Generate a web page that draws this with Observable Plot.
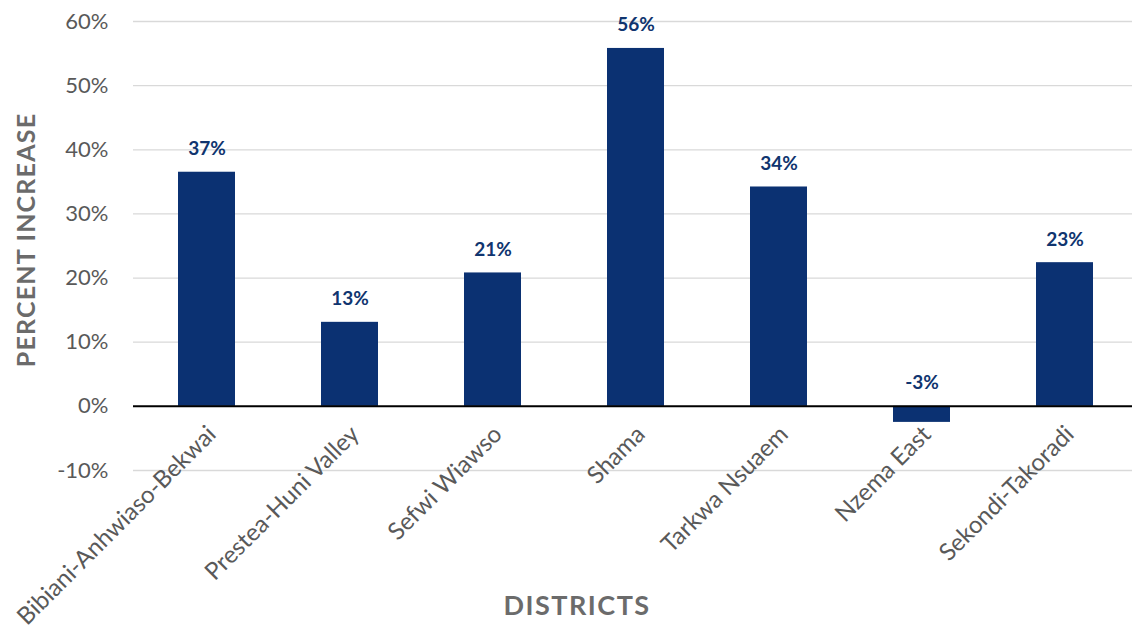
<!DOCTYPE html>
<html>
<head>
<meta charset="utf-8">
<script src="https://cdn.jsdelivr.net/npm/d3@7"></script>
<script src="https://cdn.jsdelivr.net/npm/@observablehq/plot@0.6"></script>
<style>
  html, body { margin: 0; padding: 0; background: #fff; }
  #chart { position: relative; width: 1132px; height: 633px; font-family: Lato, "Open Sans", sans-serif; }
  #chart svg { position: absolute; left: 0; top: 0; overflow: visible; }
  .ytitle { position: absolute; left: 25px; top: 240px; transform: translate(-50%, -50%) rotate(-90deg); font-weight: 700; font-size: 25px; color: #6b6b6b; white-space: nowrap; letter-spacing: 1.2px; }
  .xtitle { position: absolute; left: 577px; top: 604px; transform: translate(-50%, -50%); font-weight: 700; font-size: 27px; color: #6b6b6b; white-space: nowrap; letter-spacing: 1.5px; }
</style>
</head>
<body>
<div id="chart"></div>
<script>
const districts = ["Bibiani-Anhwiaso-Bekwai", "Prestea-Huni Valley", "Sefwi Wiawso", "Shama", "Tarkwa Nsuaem", "Nzema East", "Sekondi-Takoradi"];
const increase = [36.5, 13.1, 20.8, 55.8, 34.2, -2.5, 22.4];
const valueLabels = ["37%", "13%", "21%", "56%", "34%", "-3%", "23%"];
const yTicks = [-10, 0, 10, 20, 30, 40, 50, 60];

const data = districts.map((d, i) => ({district: d, value: increase[i], label: valueLabels[i]}));

const navy = "#0b3172";
const gray = "#595959";

const plot = Plot.plot({
  width: 1132,
  height: 633,
  marginTop: 21,
  marginBottom: 163,
  marginLeft: 133,
  marginRight: 0,
  style: {fontFamily: "Lato, 'Open Sans', sans-serif", background: "transparent", overflow: "visible"},
  x: {domain: districts, range: [133, 1138], paddingInner: 0.6, paddingOuter: 0.3, axis: null},
  y: {domain: [-10, 60], ticks: yTicks, tickFormat: d => d + "%", label: null},
  marks: [
    Plot.ruleY(yTicks.filter(t => t !== 0), {stroke: "#d9d9d9", strokeWidth: 1.3}),
    Plot.axisY({ticks: yTicks, tickFormat: d => d + "%", tickSize: 0, tickPadding: 25, fontSize: 22, fill: gray, label: null}),
    Plot.barY(data, {x: "district", y: "value", fill: navy}),
    Plot.ruleY([0], {stroke: "#000", strokeWidth: 2}),
    Plot.text(data, {x: "district", y: d => Math.max(d.value, 0), text: "label", lineAnchor: "bottom", dy: -17, fill: "#10356f", fontWeight: 700, fontSize: 19}),
    Plot.text(data, {x: "district", y: 0, text: "district", rotate: -45, textAnchor: "end", dx: 5, dy: 24, fill: gray, fontSize: 24})
  ]
});

const chart = document.getElementById("chart");
chart.appendChild(plot);
const yt = document.createElement("div");
yt.className = "ytitle";
yt.textContent = "PERCENT INCREASE";
chart.appendChild(yt);
const xt = document.createElement("div");
xt.className = "xtitle";
xt.textContent = "DISTRICTS";
chart.appendChild(xt);
</script>
</body>
</html>
